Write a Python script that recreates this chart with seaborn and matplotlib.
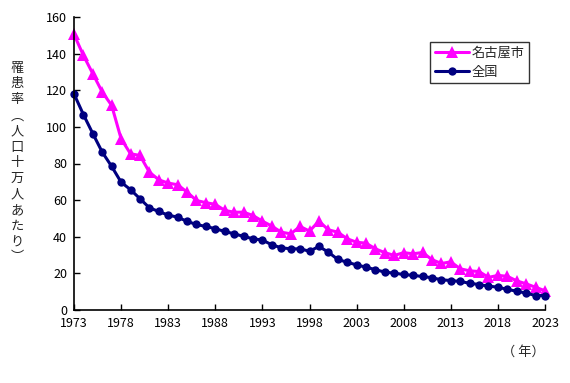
import matplotlib
matplotlib.use("Agg")
import matplotlib.pyplot as plt
import seaborn as sns
import pandas as pd

years = list(range(1973, 2024))
nagoya = [150.5, 139, 129, 119, 111.7, 93.5, 85.3, 84.4, 75.3, 71.1,
          69.3, 68.4, 64.4, 59.8, 58.6, 57.7, 54.4, 53.4, 53.4, 51.6,
          48.5, 45.8, 42.5, 41.6, 45.6, 43.1, 48.5, 43.8, 42.5, 38.9,
          37.0, 36.5, 33.4, 31.3, 29.8, 31.3, 30.7, 31.4, 27.5, 25.4,
          26.3, 22.5, 21.4, 21.0, 17.8, 18.9, 18.4, 15.9, 14.3, 12.4, 10.5]
national = [118, 106.7, 96.3, 86.2, 78.4, 69.8, 65.7, 60.8, 55.8, 53.8,
            51.8, 50.7, 48.4, 46.7, 45.6, 44.4, 42.9, 41.6, 40.2, 38.9,
            38.2, 35.6, 34.0, 33.4, 33.4, 32.1, 34.7, 31.6, 27.6, 26.1,
            24.6, 23.4, 22.0, 20.7, 20.1, 19.4, 18.9, 18.3, 17.6, 16.5,
            16.1, 15.6, 14.6, 13.9, 13.0, 12.5, 11.2, 10.3, 9.2, 7.9, 7.9]
series_names = ["名古屋市", "全国"]
xticks = list(range(1973, 2024, 5))
yticks = list(range(0, 161, 20))
ylabel = "罹患率︵人口十万人あたり︶"
xlabel = "（ 年）"

sns.set_style("white")
plt.rcParams["font.family"] = ["Noto Sans CJK JP", "DejaVu Sans"]

df = pd.DataFrame({"year": years, series_names[0]: nagoya, series_names[1]: national})

fig = plt.figure(figsize=(5.70, 3.83), dpi=100)
ax = fig.add_axes([74/570, 1-310/383, (545-74)/570, (310-17)/383])

sns.lineplot(data=df, x="year", y=series_names[0], ax=ax, color="#FF00FF",
             marker="^", markersize=8, markeredgewidth=0, linewidth=2.2,
             label=series_names[0], clip_on=False)
sns.lineplot(data=df, x="year", y=series_names[1], ax=ax, color="#000080",
             marker="o", markersize=6, markeredgewidth=0, linewidth=2.2,
             label=series_names[1], clip_on=False)

ax.set_xlim(1973, 2023)
ax.set_ylim(0, 160)
ax.set_xticks(xticks)
ax.set_yticks(yticks)
ax.tick_params(axis="both", direction="in", length=4, width=1, labelsize=9,
               colors="black", pad=5, left=True, bottom=True)
for s in ["top", "right"]:
    ax.spines[s].set_visible(False)
for s in ["left", "bottom"]:
    ax.spines[s].set_color("black")
    ax.spines[s].set_linewidth(1.2)
ax.set_xlabel("")
ax.set_ylabel("")
ax.grid(False)

fig.text(17/570, 1-163/383, "\n".join(ylabel), ha="center", va="center",
         fontsize=9.5, linespacing=1.28)
fig.text(545/570, 1-352/383, xlabel, ha="right", va="center", fontsize=9.5)

leg = ax.legend(loc="upper left", bbox_to_anchor=((430-74)/471, 1-(42-17)/293),
                borderaxespad=0, frameon=True, fancybox=False, edgecolor="black",
                fontsize=9.5, handlelength=2.6, borderpad=0.35, labelspacing=0.45,
                handletextpad=0.2)
leg.get_frame().set_linewidth(1)

fig.savefig("out.png", dpi=100)
